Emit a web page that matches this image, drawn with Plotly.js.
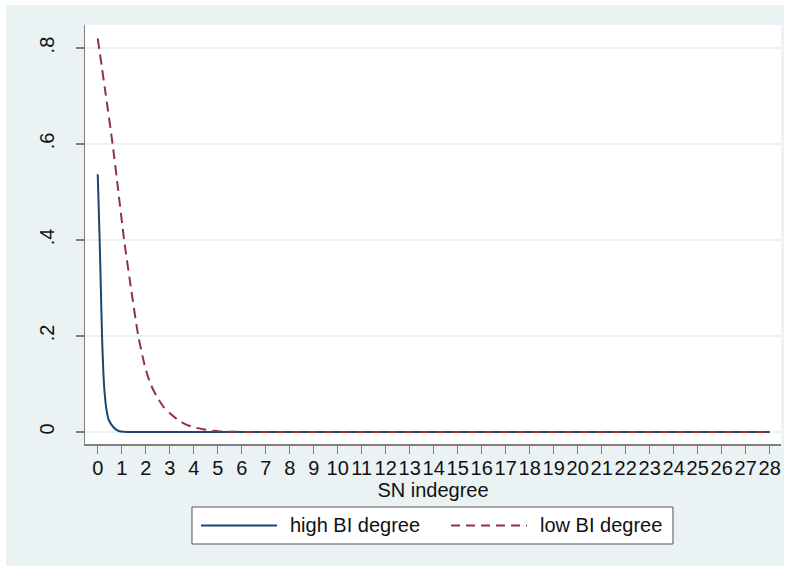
<!DOCTYPE html>
<html>
<head>
<meta charset="utf-8">
<script src="https://cdn.plot.ly/plotly-3.0.1.min.js"></script>
<style>
  html, body { margin: 0; padding: 0; background: #ffffff; }
  #chart { position: absolute; left: 6px; top: 5px; width: 778px; height: 561px; }
</style>
</head>
<body>
<div id="chart"></div>
<script>
// SN indegree values and estimated densities
const highX = [0, 0.04, 0.08, 0.13, 0.18, 0.23, 0.29, 0.37, 0.46, 0.64, 0.8, 0.97, 1.3, 2, 28];
const highY = [0.537, 0.47, 0.40, 0.30, 0.20, 0.13, 0.08, 0.045, 0.025, 0.011, 0.004, 0.001, 0.0002, 0, 0];

const lowX = [0, 0.3, 0.62, 0.85, 1.1, 1.4, 1.69, 1.97, 2.2, 2.46, 2.75, 3.01, 3.35, 3.71, 4.0, 4.39, 4.8, 5.1, 5.6, 6.5, 7, 28];
const lowY = [0.82, 0.715, 0.60, 0.505, 0.40, 0.295, 0.20, 0.136, 0.10, 0.074, 0.052, 0.039, 0.025, 0.015, 0.010, 0.0056, 0.0025, 0.0012, 0.0004, 0.0001, 0, 0];

const seriesNames = ["high BI degree", "low BI degree"];
const seriesColors = ["#1a476f", "#90353b"];
const xTicks = Array.from({length: 29}, (_, i) => i);
const yTickVals = [0, 0.2, 0.4, 0.6, 0.8];
const yTickText = ["0", ".2", ".4", ".6", ".8"];
const xTitle = "SN indegree";

const FONT = "Liberation Sans, Arial, sans-serif";
const TXT = "#111111";
const FS = 20;

const traces = [
  {
    x: highX, y: highY, name: seriesNames[0], type: "scatter", mode: "lines",
    line: {color: seriesColors[0], width: 2, shape: "spline", smoothing: 0.6},
    showlegend: false
  },
  {
    x: lowX, y: lowY, name: seriesNames[1], type: "scatter", mode: "lines",
    line: {color: seriesColors[1], width: 2, dash: "10px,6px", shape: "spline", smoothing: 0.6},
    showlegend: false
  }
];

// legend box (paper coordinates, below the plot area)
const LEG = {x0: 0.1537, x1: 0.8448, y0: -0.2387, y1: -0.1504, yc: -0.1945};
const legendShapes = [
  {type: "rect", xref: "paper", yref: "paper", x0: LEG.x0, x1: LEG.x1, y0: LEG.y0, y1: LEG.y1,
   fillcolor: "#ffffff", line: {color: "#555555", width: 1}},
  {type: "line", xref: "paper", yref: "paper", x0: 0.1667, x1: 0.2759, y0: LEG.yc, y1: LEG.yc,
   line: {color: seriesColors[0], width: 2}},
  {type: "line", xref: "paper", yref: "paper", x0: 0.5259, x1: 0.6351, y0: LEG.yc, y1: LEG.yc,
   line: {color: seriesColors[1], width: 2, dash: "9px,6px"}}
];
const legendText = [
  {xref: "paper", yref: "paper", x: 0.2917, y: LEG.yc, xanchor: "left", yanchor: "middle",
   text: seriesNames[0], showarrow: false, font: {family: FONT, size: FS, color: TXT}},
  {xref: "paper", yref: "paper", x: 0.6509, y: LEG.yc, xanchor: "left", yanchor: "middle",
   text: seriesNames[1], showarrow: false, font: {family: FONT, size: FS, color: TXT}}
];

const layout = {
  width: 778, height: 561,
  margin: {l: 79, r: 3, t: 20, b: 122, pad: 0},
  paper_bgcolor: "#eaf2f3",
  plot_bgcolor: "#ffffff",
  font: {family: FONT, size: FS, color: TXT},
  showlegend: false,
  shapes: legendShapes,
  annotations: legendText,
  xaxis: {
    range: [-0.53, 28.47],
    tickvals: xTicks,
    ticktext: xTicks.map(String),
    tickangle: 0,
    ticks: "outside", ticklen: 8, tickwidth: 1.5, tickcolor: "#808080",
    showline: true, linecolor: "#808080", linewidth: 1.5,
    showgrid: false, zeroline: false,
    tickfont: {family: FONT, size: FS, color: TXT},
    ticklabelstandoff: -3,
    title: {text: xTitle, font: {family: FONT, size: FS, color: TXT}, standoff: 0},
    automargin: false,
    fixedrange: true
  },
  yaxis: {
    range: [-0.025, 0.848],
    tickvals: yTickVals,
    ticktext: yTickText,
    tickangle: -90,
    ticks: "outside", ticklen: 8, tickwidth: 1.5, tickcolor: "#808080",
    showline: true, linecolor: "#808080", linewidth: 1.5,
    showgrid: true, gridcolor: "#eaf2f3", gridwidth: 1.5,
    zeroline: false,
    tickfont: {family: FONT, size: FS, color: TXT},
    ticklabelstandoff: 14,
    automargin: false,
    fixedrange: true
  }
};

Plotly.newPlot("chart", traces, layout, {displayModeBar: false, staticPlot: true});
</script>
</body>
</html>
